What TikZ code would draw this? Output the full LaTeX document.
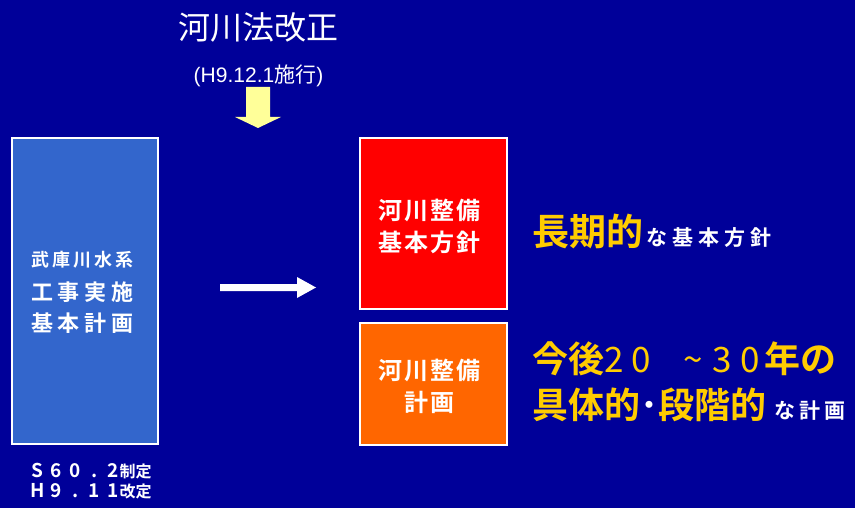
\documentclass[tikz,border=0pt]{standalone}
\usepackage{fontspec}
\setmainfont{Noto Sans CJK JP}[BoldFont={Noto Sans CJK JP Bold}]
\newfontfamily\arialf{Liberation Sans}
\definecolor{bgblue}{HTML}{000099}
\definecolor{boxblue}{HTML}{3366CC}
\definecolor{boxred}{HTML}{FF0000}
\definecolor{boxorange}{HTML}{FF6600}
\definecolor{ylw}{HTML}{FFCC00}
\definecolor{arrowylw}{HTML}{FFFF99}
\def\lsp#1#2{\def\lspsep{#1}\lsploop#2\relax}
\def\lsploop#1{\ifx\relax#1\else#1\expandafter\lspnext\fi}
\def\lspnext#1{\ifx\relax#1\else\hskip\lspsep#1\expandafter\lspnext\fi}
\newcommand\fs[1]{\fontsize{#1pt}{#1pt}\selectfont}
\newcommand\cb[1]{\makebox[19pt][c]{#1}}
\tikzset{
  panel/.style={draw=white, line width=1.5pt, inner sep=0pt},
  txt/.style={inner sep=0pt, text=white},
  btxt/.style={inner sep=0pt, text=white, font=\bfseries},
}
\begin{document}
\begin{tikzpicture}[x=1pt,y=-1pt]
\fill[bgblue] (0,0) rectangle (855,508);
\useasboundingbox (0,0) rectangle (855,508);
% top title
\node[txt, font=\fs{32}] (law) at (258.5,27) {河川法改正};
\node[txt, font=\fs{21}] (date) at (258.5,76) {{\arialf (H9.12.1}施行{\arialf )}};
% yellow down arrow
\fill[arrowylw] (246,87) -- (270,87) -- (270,117) -- (281,117) -- (258,128) -- (235,117) -- (246,117) -- cycle;
\coordinate (ya) at (258,128);
% left box
\node[panel, fill=boxblue, minimum width=146pt, minimum height=306pt] (plan) at (85,291) {};
\node[btxt, font=\fs{18}\bfseries] (pl1) at (82.5,260) {\lsp{3pt}{武庫川水系}};
\node[btxt, font=\fs{22}\bfseries] (pl2) at (82.5,292) {\lsp{5pt}{工事実施}};
\node[btxt, font=\fs{22}\bfseries] (pl3) at (82.5,323) {\lsp{5pt}{基本計画}};
\node[txt, anchor=base west, font=\fs{19}\bfseries] (d1) at (27.5,477) {\cb{S}\cb{6}\cb{0}\cb{.}\cb{2}\hskip-3pt{\fs{16}制定}};
\node[txt, anchor=base west, font=\fs{19}\bfseries] (d2) at (27.5,497) {\cb{H}\cb{9}\cb{.}\cb{1}\cb{1}\hskip-3pt{\fs{16}改定}};
% white arrow
\fill[white] (220,284) -- (297,284) -- (297,277) -- (316,287.5) -- (297,298) -- (297,291) -- (220,291) -- cycle;
% red box
\node[panel, fill=boxred, minimum width=147pt, minimum height=171pt] (policy) at (433.5,223.5) {};
\node[btxt, font=\fs{24}\bfseries] (po1) at (429.5,210) {\lsp{2pt}{河川整備}};
\node[btxt, font=\fs{24}\bfseries] (po2) at (429.5,242) {\lsp{2pt}{基本方針}};
% orange box
\node[panel, fill=boxorange, minimum width=147pt, minimum height=122pt] (rplan) at (433.5,384) {};
\node[btxt, font=\fs{24}\bfseries] (rp1) at (429.5,370) {\lsp{2pt}{河川整備}};
\node[btxt, font=\fs{24}\bfseries] (rp2) at (429.5,402) {\lsp{2pt}{計画}};
% right descriptions
\node[inner sep=0pt, anchor=base west] (long) at (532,246)
  {{\color{ylw}\fs{37}\bfseries 長期的}\hskip3pt{\color{white}\fs{21}\bfseries\lsp{5pt}{な基本方針}}};
\node[inner sep=0pt, anchor=base west, text=ylw] (yrs) at (532,372)
  {{\fs{36}\bfseries 今後}{\fs{35}2\hskip8pt 0\hskip32pt \textasciitilde\hskip10pt 3\hskip9pt 0}\hskip4pt{\fs{36}\bfseries 年の}};
\node[inner sep=0pt, anchor=base west, text=ylw] (conc) at (532,418)
  {{\fs{36}\bfseries 具体的}{\color{white}\fs{36}\bfseries ･}{\fs{36}\bfseries 段階的}\hskip8pt{\color{white}\fs{21}\bfseries\lsp{4pt}{な計画}}};
\end{tikzpicture}
\end{document}
